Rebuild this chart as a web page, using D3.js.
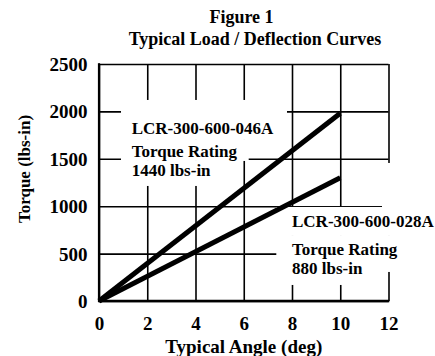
<!DOCTYPE html>
<html>
<head>
<meta charset="utf-8">
<script src="https://cdn.jsdelivr.net/npm/d3@7/dist/d3.min.js"></script>
<style>
  html, body { margin: 0; padding: 0; background: #fff; }
  svg { display: block; }
  text { font-family: "Liberation Serif", "Times New Roman", serif; font-weight: bold; fill: #000; }
</style>
</head>
<body>
<svg id="chart" width="435" height="356"></svg>
<script>
// Axis ticks
const xTicks = [0, 2, 4, 6, 8, 10, 12];
const yTicks = [0, 500, 1000, 1500, 2000, 2500];

// Load / deflection series: angle (deg) vs torque (lbs-in)
const angle046 = [0, 10];
const torque046 = [0, 1980];
const angle028 = [0, 10];
const torque028 = [0, 1300];

// Curve annotations: anchor in data units, then text lines
const note046Lines = ["LCR-300-600-046A", "Torque Rating", "1440 lbs-in"];
const note046Anchor = [1.355, 1762];
const note028Lines = ["LCR-300-600-028A", "Torque Rating", "880 lbs-in"];
const note028Anchor = [8.0, 781];

const titleLines = ["Figure 1", "Typical Load / Deflection Curves"];
const xTitle = "Typical Angle (deg)";
const yTitle = "Torque (lbs-in)";

const serif = "Liberation Serif, Times New Roman, serif";
const svg = d3.select("#chart");
const plotL = 99, plotR = 388.5, plotT = 64, plotB = 301;

const x = d3.scaleLinear().domain([0, 12]).range([plotL, plotR]);
const y = d3.scaleLinear().domain([0, 2500]).range([plotB, plotT]);

// Grid (via axes with full-length ticks)
const gx = svg.append("g").attr("transform", `translate(0,${plotB})`)
  .call(d3.axisBottom(x).tickValues(xTicks).tickSize(-(plotB - plotT)).tickFormat(""));
gx.select(".domain").remove();
gx.selectAll("line").attr("stroke", "#000").attr("stroke-width", 1.6);

const gy = svg.append("g").attr("transform", `translate(${plotL},0)`)
  .call(d3.axisLeft(y).tickValues(yTicks).tickSize(-(plotR - plotL)).tickFormat(""));
gy.select(".domain").remove();
gy.selectAll("line").attr("stroke", "#000").attr("stroke-width", 1.6);

// White panels behind the annotations interrupt the grid
function panel(anchor, boxes) {
  const tx = x(anchor[0]), by = y(anchor[1]);
  svg.append("g").selectAll("rect").data(boxes).join("rect")
    .attr("x", d => tx + d[0]).attr("y", d => by + d[2])
    .attr("width", d => d[1] - d[0]).attr("height", d => d[3] - d[2])
    .attr("fill", "#fff");
}
panel(note046Anchor, [[-10.7, 155.3, -34, 6], [-10.7, 117, 6, 27], [-10.7, 108, 27, 52]]);
panel(note028Anchor, [[90, 145, -64, -19], [-15.7, 145, -20, 9], [-15.7, 145, 9, 45], [-15.7, 78, 45, 58]]);

// Frame: left and bottom axis lines
svg.append("line").attr("x1", plotL).attr("x2", plotL).attr("y1", plotT - 0.8).attr("y2", plotB + 1)
  .attr("stroke", "#000").attr("stroke-width", 2.2);
svg.append("line").attr("x1", plotL - 1).attr("x2", plotR + 0.8).attr("y1", plotB).attr("y2", plotB)
  .attr("stroke", "#000").attr("stroke-width", 2.6);

// Tick labels
const fmt = d3.format("d");
const xl = svg.append("g").attr("transform", `translate(0,${plotB})`)
  .call(d3.axisBottom(x).tickValues(xTicks).tickFormat(fmt).tickSize(0).tickPadding(0))
  .attr("font-family", serif).attr("font-size", 19).attr("font-weight", "bold");
xl.select(".domain").remove();
xl.selectAll("text").attr("y", 29).attr("dy", null).attr("fill", "#000");

const yl = svg.append("g").attr("transform", `translate(${plotL},0)`)
  .call(d3.axisLeft(y).tickValues(yTicks).tickFormat(fmt).tickSize(0).tickPadding(0))
  .attr("font-family", serif).attr("font-size", 19).attr("font-weight", "bold");
yl.select(".domain").remove();
yl.selectAll("text").attr("x", -11.5).attr("dy", "0.34em").attr("fill", "#000");

// Curves
const line = d3.line().x(d => x(d[0])).y(d => y(d[1]));
const series = [
  d3.zip(angle046, torque046),
  d3.zip(angle028, torque028)
];
svg.append("g").selectAll("path").data(series).join("path")
  .attr("d", line).attr("fill", "none").attr("stroke", "#000")
  .attr("stroke-width", 5).attr("stroke-linecap", "butt");

// Annotations
function note(anchor, lines, gaps) {
  const t = svg.append("text").attr("x", x(anchor[0])).attr("y", y(anchor[1]))
    .style("font-size", "17px");
  lines.forEach((s, i) => {
    t.append("tspan").attr("x", x(anchor[0])).attr("dy", i === 0 ? 0 : gaps[i - 1]).text(s);
  });
}
note(note046Anchor, note046Lines, [23.5, 18.5]);
note(note028Anchor, note028Lines, [28.5, 18.5]);

// Titles
svg.append("text").attr("x", 241.5).attr("y", 23.3).attr("text-anchor", "middle")
  .style("font-size", "18px").text(titleLines[0]);
svg.append("text").attr("x", 255).attr("y", 45).attr("text-anchor", "middle")
  .style("font-size", "18px").text(titleLines[1]);

svg.append("text").attr("x", (plotL + plotR) / 2).attr("y", 353)
  .attr("text-anchor", "middle").style("font-size", "19px").text(xTitle);

svg.append("text").attr("transform", "translate(30,169) rotate(-90)")
  .attr("text-anchor", "middle").style("font-size", "17px").text(yTitle);
</script>
</body>
</html>
